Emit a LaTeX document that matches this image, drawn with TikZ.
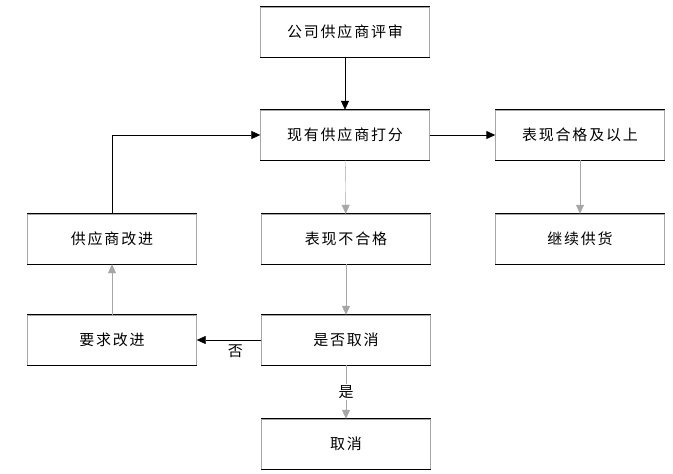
\documentclass[tikz,border=0pt]{standalone}
\usepackage{fontspec}
\newfontfamily\cjk{Noto Sans CJK SC}[LetterSpace=12]
\usetikzlibrary{arrows.meta}
\begin{document}
\begin{tikzpicture}[x=1pt,y=-1pt,
  box/.style={draw=gray!70,thin,minimum width=169pt,minimum height=50pt,font=\cjk\fontsize{15}{18}\selectfont,inner sep=0pt},
  arr/.style={-{Triangle[length=9pt,width=8pt]},line width=0.6pt},
  lab/.style={font=\cjk\fontsize{15}{18}\selectfont}]
\useasboundingbox (0,0) rectangle (673,474);
\node[box] (A) at (345,32) {公司供应商评审};
\node[box] (B) at (345,135) {现有供应商打分};
\node[box] (C) at (580,135) {表现合格及以上};
\node[box] (D) at (580,239) {继续供货};
\node[box] (E) at (346,239) {表现不合格};
\node[box] (F) at (346,340) {是否取消};
\node[box] (G) at (346,444) {取消};
\node[box] (H) at (112,239) {供应商改进};
\node[box] (I) at (112,340) {要求改进};
\foreach \n in {A,B,C,D,E,F,G,H,I}{
  \draw[line width=1.3pt] (\n.north west) -- (\n.north east);
  \draw[line width=1.3pt] (\n.south west) -- (\n.south east);
}
\draw[arr] (A) -- (B);
\draw[arr,line width=1pt] (B) -- (C);
\draw[arr,draw=gray!70,thin] (B) -- (E);
\draw[arr,draw=gray!70,thin] (C) -- (D);
\draw[arr,draw=gray!70,thin] (E) -- (F);
\draw[arr,draw=gray!70,thin] (F) -- (G) node[lab,midway,fill=white,inner sep=1pt] {是};
\draw[arr] (F) -- (I) node[lab,pos=0.4,below=1pt] {否};
\draw[arr,draw=gray!70,thin] (I) -- (H);
\draw[arr] (H.north) |- (B.west);
\end{tikzpicture}
\end{document}
